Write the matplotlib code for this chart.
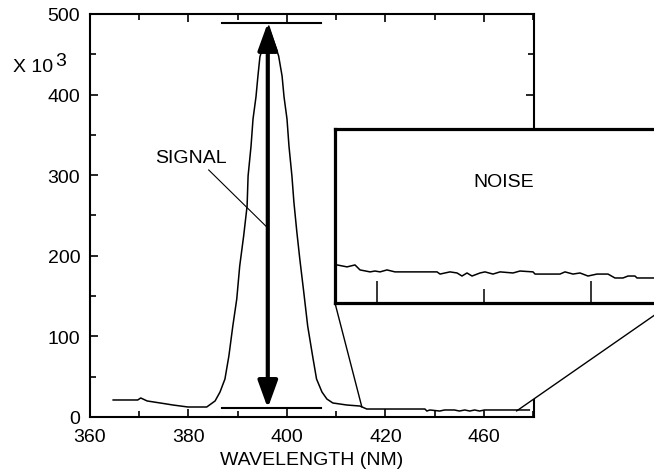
import matplotlib
matplotlib.use("Agg")
import matplotlib.pyplot as plt
from matplotlib.patches import Polygon, ConnectionPatch
from matplotlib.transforms import IdentityTransform
from matplotlib.ticker import MultipleLocator
import numpy as np

plt.rcParams['font.family'] = ['Liberation Sans', 'DejaVu Sans']

# ---- data (intensity in units of 10^3) ----
wavelength = [364.7, 369.7, 370.3, 371.6, 375.6, 376.8, 379.9, 383.7,
              385.4, 386.4, 387.4, 388.2, 389.0, 389.8, 390.4, 391.2, 391.9,
              392.1, 392.7, 393.1, 393.7, 394.1, 394.5, 396.3,
              398.3, 399.0, 399.4, 400.0, 400.4, 401.0, 401.4, 402.0, 402.6,
              403.4, 404.2, 405.2, 406.0, 407.1, 408.1, 409.3, 412.1, 414.8,
              416.2, 428.0, 428.4, 429.0, 431.0, 432.0, 434.0, 435.0, 436.1,
              437.1, 438.1, 439.1, 440.1, 449.2]
intensity = [21.1, 21.1, 23.6, 19.9, 16.1, 14.9, 12.4, 12.4,
             19.9, 31.0, 47.1, 75.7, 112.9, 146.4, 187.3, 224.6, 261.8,
             299.0, 336.2, 369.7, 397.0, 423.1, 446.7, 485.0,
             447.9, 423.1, 397.0, 369.7, 336.2, 299.0, 266.7, 229.5, 196.0,
             155.1, 112.9, 75.7, 47.1, 31.0, 22.3, 17.4, 14.9, 13.6,
             9.9, 9.9, 7.4, 8.7, 7.4, 8.7, 8.7, 7.4, 8.7,
             7.4, 8.7, 7.4, 8.7, 8.7]

noise_wl = [416.07, 416.26, 417.2, 417.94, 418.41, 419.35, 419.81, 420.28, 420.93,
            421.68, 425.61, 425.89, 426.82, 427.48, 427.94, 428.41, 428.88,
            429.63, 430.09, 430.84, 431.50, 432.71, 433.36, 434.58, 434.77,
            437.10, 437.57, 438.32, 438.97, 439.72, 440.56, 441.59, 442.24,
            442.99, 443.46, 444.11, 444.30, 445.79, 447.57]
noise_val = [8.75, 8.75, 8.66, 8.75, 8.52, 8.43, 8.47, 8.43, 8.52,
             8.43, 8.43, 8.33, 8.43, 8.38, 8.24, 8.38, 8.24,
             8.38, 8.43, 8.33, 8.43, 8.38, 8.47, 8.43, 8.33,
             8.33, 8.43, 8.33, 8.38, 8.24, 8.33, 8.33, 8.15,
             8.15, 8.24, 8.24, 8.15, 8.15, 8.15]

x_tick_pos = [360, 380, 400, 420, 440]
x_tick_labels = ['360', '380', '400', '420', '460']
y_ticks = [0, 100, 200, 300, 400, 500]

peak_wl = 396.1
signal_top = 489
signal_bottom = 11
bar_left = 386.9
bar_right = 407.0

FS = 14

fig = plt.figure(figsize=(6.54, 4.77), dpi=100)
ax = fig.add_axes([0.1376, 0.1237, 0.6789, 0.8449])

ax.plot(wavelength, intensity, color='black', lw=1.1, zorder=3)
ax.set_xlim(360, 450.15)
ax.set_ylim(0, 500)
ax.set_xticks(x_tick_pos)
ax.set_xticklabels(x_tick_labels)
ax.set_yticks(y_ticks)
ax.xaxis.set_minor_locator(MultipleLocator(10))
ax.yaxis.set_minor_locator(MultipleLocator(50))
ax.tick_params(which='both', direction='in', top=True, right=True, width=1.2,
               labelsize=FS, colors='black')
ax.tick_params(which='major', length=5.5)
ax.tick_params(which='minor', length=4)
ax.tick_params(axis='x', pad=8)
ax.tick_params(axis='y', pad=7)
for s in ax.spines.values():
    s.set_linewidth(1.5)
ax.set_xlabel('WAVELENGTH (NM)', fontsize=FS, labelpad=4)

# horizontal reference bars
ax.plot([bar_left, bar_right], [signal_top, signal_top], color='black', lw=1.5, zorder=3)
ax.plot([bar_left, bar_right], [signal_bottom, signal_bottom], color='black', lw=1.5, zorder=3)
# double arrow
ax.annotate('', xy=(peak_wl, signal_top), xytext=(peak_wl, signal_bottom),
            arrowprops=dict(arrowstyle='<|-|>,head_length=1.65,head_width=0.6',
                            lw=3, color='black', shrinkA=0, shrinkB=0,
                            mutation_scale=10), zorder=4)
# SIGNAL label with leader
ax.text(380.5, 322, 'SIGNAL', fontsize=FS, ha='center', va='center')
ax.plot([384.1, 395.9], [306.5, 235.7], color='black', lw=0.8, zorder=3)

t10 = fig.text(13 / 654, 1 - 67 / 477, 'X 10', fontsize=FS, ha='left', va='center')

# inset
ins = fig.add_axes([0.5122, 0.3627, 0.5153, 0.3648])
ins.plot(noise_wl, noise_val, color='black', lw=1.1)
ins.set_xlim(416.07, 447.57)
ins.set_ylim(7, 15)
ins.set_xticks([420, 440])
ins.set_xticks([430], minor=True)
ins.set_xticklabels([])
ins.set_yticks([])
ins.tick_params(axis='x', which='both', direction='in', width=1.1, labelbottom=False)
ins.tick_params(axis='x', which='major', length=15.8)
ins.tick_params(axis='x', which='minor', length=10)
for s in ins.spines.values():
    s.set_linewidth(2.3)
ins.text(431.8, 12.6, 'NOISE', fontsize=FS, ha='center', va='center')

# white trapezoid covering the region between inset and zoom source
left_pt = (415.2, 12.4)
right_pt = (446.6, 7.4)
fig.canvas.draw()
bb = t10.get_window_extent()
fig.text((bb.x1 + 2) / 654, 1 - 61 / 477, '3', fontsize=FS, ha='left', va='center')

p_il = ins.transAxes.transform((0, 0))
p_ir = ins.transAxes.transform((1, 0))
p_l = ax.transData.transform(left_pt)
p_r = ax.transData.transform(right_pt)
poly = Polygon([p_il, p_ir, p_r, p_l], closed=True, facecolor='white',
               edgecolor='none', transform=IdentityTransform(), zorder=2.7,
               clip_on=False)
ax.add_patch(poly)

for xyA, xyB in [((0, 0), left_pt), ((1, 0), right_pt)]:
    cp = ConnectionPatch(xyA=xyA, coordsA=ins.transAxes, xyB=xyB,
                         coordsB=ax.transData, color='black', lw=1.0)
    fig.add_artist(cp)

fig.savefig('out.png', dpi=100)
